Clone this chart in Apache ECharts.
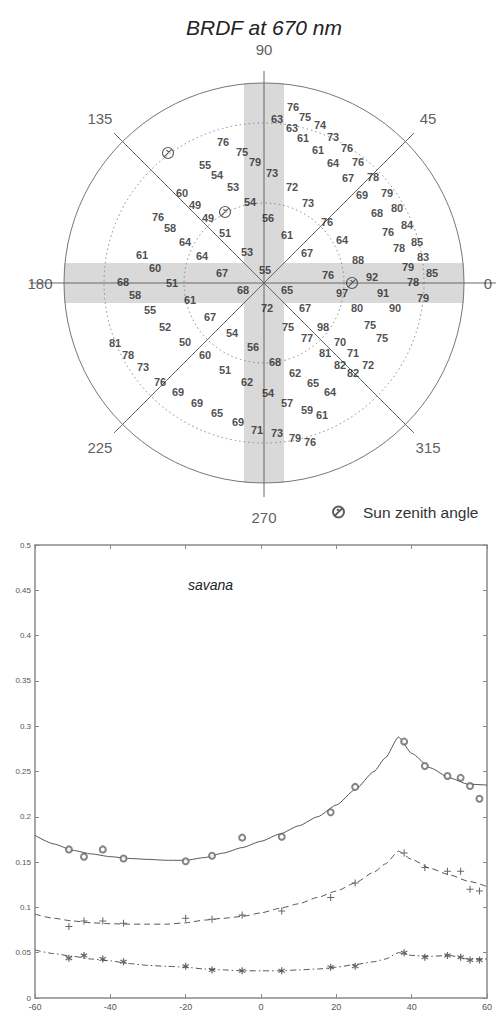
<!DOCTYPE html>
<html><head><meta charset="utf-8">
<script src="https://cdn.jsdelivr.net/npm/echarts/dist/echarts.min.js"></script>
<style>html,body{margin:0;padding:0;background:#fff}#c{width:497px;height:1014px}</style>
</head><body><div id="c"></div>
<script>
// ================= Polar BRDF plot (units: outer ring = 100) =================
const titleText = 'BRDF at 670 nm';
const azimuthLabels = [0, 45, 90, 135, 180, 225, 270, 315];
const ringRadii = [40, 80, 100];
const brdfVal = [76,75,79,55,54,53,54,60,49,49,51,53,76,58,64,61,64,76,75,74,63,63,73,61,61,76,64,76,67,78,69,79,68,80,76,84,78,85,83,73,72,73,56,76,61,64,67,88,60,67,55,68,51,68,58,61,72,55,67,52,54,50,81,56,60,78,73,51,76,62,69,76,92,79,85,78,79,65,97,91,67,80,90,75,98,75,75,77,70,81,71,82,72,82,68,62,65,64,54,69,65,69,71,73,57,59,61,79,76];
const brdfX = [-20.5,-11,-4.5,-29.5,-23.5,-15.5,-7,-41,-34.5,-28,-19.5,-8.5,-53,-47,-39.5,-61,-31,14.5,20.5,28,6.5,14,34.5,19.5,27,41.5,34.5,47,42,54.5,49,61.5,56.5,66.5,62,71.5,67.5,76.5,79.5,4,14,22,2,31.5,11.5,39,21.5,47,-54.5,-21,0.5,-70.5,-46,-10.5,-64.5,-37,1.5,-57,-27,-49.5,-16,-39.5,-74.5,-5.5,-29.5,-68,-60.5,-19.5,-52,-8.5,-43,32,54,72,84,74.5,79.5,11.5,39,59.5,20.5,46.5,65.5,12,29.5,53,59,21.5,38,30.5,44.5,38,52,44.5,5.5,15.5,24.5,33,2,-33.5,-23.5,-13,-3.5,6.5,11.5,21.5,29,15.5,23];
const brdfY = [70.5,65.5,60.5,59,54,48,40.5,45,39,32.5,25,15.5,33,27.5,20.5,14,13.5,88,83,79,82,77.5,73,72.5,66.5,67.5,60,60.5,52.5,53,44,45,35,37.5,25.5,29,17.5,20.5,13,55,48,40,32.5,30.5,24,21.5,15,11.5,7.5,5,6.5,0.5,0,-3.5,-6,-8.5,-12.5,-13.5,-17,-22,-25,-29.5,-30,-32,-36,-36,-42,-43.5,-49.5,-49.5,-54.5,4,3,8,5,0.5,-7.5,-3.5,-5,-5,-12.5,-12.5,-12.5,-22,-22,-21,-27.5,-27.5,-29.5,-35,-35,-41,-41,-45,-39.5,-45,-50,-54.5,-55,-60,-65,-69.5,-73.5,-75,-60,-63.5,-66,-77.5,-79.5];
const sunX = [-48, -19.5, 44];
const sunY = [65, 35.5, 0];

// ================= Savana profile (lower plot) =================
const obsAngle = [-51, -47, -42, -36.5, -20, -13, -5, 5.5, 18.5, 25, 38, 43.5, 49.5, 53, 55.5, 58];
const obsHigh = [0.164, 0.156, 0.164, 0.154, 0.151, 0.157, 0.177, 0.178, 0.205, 0.233, 0.283, 0.256, 0.245, 0.243, 0.234, 0.220];
const obsMid  = [0.079, 0.085, 0.085, 0.0825, 0.088, 0.087, 0.0915, 0.096, 0.111, 0.127, 0.160, 0.144, 0.140, 0.140, 0.120, 0.118];
const obsLow  = [0.044, 0.047, 0.043, 0.040, 0.035, 0.031, 0.030, 0.030, 0.034, 0.035, 0.050, 0.045, 0.047, 0.045, 0.042, 0.042];
const fitAngle = [-60, -55, -50, -45, -40, -35, -30, -25, -20, -15, -10, -5, 0, 5, 10, 15, 20, 25, 30, 33, 36.5, 40, 45, 50, 55, 60];
const fitHigh = [0.1795, 0.170, 0.163, 0.159, 0.156, 0.154, 0.153, 0.152, 0.152, 0.155, 0.160, 0.166, 0.173, 0.181, 0.190, 0.200, 0.213, 0.230, 0.250, 0.265, 0.288, 0.270, 0.254, 0.243, 0.236, 0.235];
const fitMid  = [0.0925, 0.088, 0.085, 0.083, 0.082, 0.0815, 0.0815, 0.0815, 0.083, 0.086, 0.088, 0.090, 0.094, 0.099, 0.104, 0.111, 0.118, 0.127, 0.139, 0.148, 0.162, 0.153, 0.143, 0.136, 0.129, 0.123];
const fitLow  = [0.053, 0.049, 0.046, 0.043, 0.041, 0.038, 0.036, 0.035, 0.034, 0.032, 0.031, 0.030, 0.030, 0.030, 0.031, 0.032, 0.034, 0.037, 0.040, 0.043, 0.050, 0.047, 0.046, 0.047, 0.043, 0.043];
const siteName = 'savana';

// ---------------------------------------------------------------
const FONT = 'Liberation Sans, Arial, sans-serif';
const sunPath = 'path://M0,-5A5,5 0 1,1 0,5A5,5 0 1,1 0,-5ZM-3.5,3.5L3.5,-3.5M-1.5,-2.5L1,-1';
const plusPath = 'path://M-0.6,-4L0.6,-4L0.6,-0.6L4,-0.6L4,0.6L0.6,0.6L0.6,4L-0.6,4L-0.6,0.6L-4,0.6L-4,-0.6L-0.6,-0.6Z';
const starPath = 'path://M-0.7,-4L0.7,-4L0.7,-1.2L3.2,-2.6L3.9,-1.4L1.4,0L3.9,1.4L3.2,2.6L0.7,1.2L0.7,4L-0.7,4L-0.7,1.2L-3.2,2.6L-3.9,1.4L-1.4,0L-3.9,-1.4L-3.2,-2.6L-0.7,-1.2Z';

const zip = (a, b) => a.map((v, i) => [v, b[i]]);

const axisSegs = [[-117, 0, 116, 0], [0, 106, 0, -107]];
[45, 135, 225, 315].forEach(a => {
  const r = 106, t = a * Math.PI / 180;
  axisSegs.push([0, 0, r * Math.cos(t), r * Math.sin(t)]);
});
const azLabelData = azimuthLabels.map(a => {
  const r = (a % 180 === 0) ? 112 : (a === 90 || a === 270 ? 117 : 116);
  const t = a * Math.PI / 180;
  return { value: [r * Math.cos(t), r * Math.sin(t)], name: String(a) };
});

const chart = echarts.init(document.getElementById('c'), null, { renderer: 'svg' });
const gray = '#8a8a8a';
const frameAxis = (extra) => Object.assign({
  type: 'value', gridIndex: 1,
  axisLine: { show: true, onZero: false, lineStyle: { color: gray, width: 1.5 } },
  axisTick: { show: true, inside: true, length: 4, lineStyle: { color: gray } },
  splitLine: { show: false }
}, extra);
const option = {
  animation: false,
  backgroundColor: '#fff',
  textStyle: { fontFamily: FONT },
  graphic: [
    { type: 'text', x: 264, y: 27, style: { text: titleText, fill: '#222', font: 'italic 21px ' + FONT, align: 'center', verticalAlign: 'middle' } },
    { type: 'text', x: 188, y: 585, style: { text: siteName, fill: '#222', font: 'italic 14px ' + FONT, align: 'left', verticalAlign: 'middle' } }
  ],
  legend: {
    data: [{ name: 'Sun zenith angle' }], left: 327, top: 499, itemWidth: 11, itemHeight: 11,
    selectedMode: false, textStyle: { fontSize: 15.5, color: '#333', padding: [0, 0, 0, 14] }
  },
  grid: [
    { left: 64, top: 83, width: 400, height: 400 },
    { left: 35, top: 545, width: 452, height: 453 }
  ],
  xAxis: [
    { gridIndex: 0, type: 'value', min: -100, max: 100, show: false },
    frameAxis({ position: 'bottom', min: -60, max: 60, interval: 20,
      axisLabel: { fontSize: 9, color: '#555', margin: 4 } }),
    frameAxis({ position: 'top', min: -60, max: 60, interval: 20, axisLabel: { show: false } })
  ],
  yAxis: [
    { gridIndex: 0, type: 'value', min: -100, max: 100, show: false },
    frameAxis({ position: 'left', min: 0, max: 0.5, interval: 0.05,
      axisLabel: { fontSize: 8, color: '#555', margin: 4, formatter: v => String(+v.toFixed(2)) } }),
    frameAxis({ position: 'right', min: 0, max: 0.5, interval: 0.05, axisLabel: { show: false } })
  ],
  series: [
    { type: 'line', xAxisIndex: 0, yAxisIndex: 0, data: [[0, 0]], showSymbol: false, symbolSize: 0,
      lineStyle: { width: 0 }, z: 1, silent: true,
      markArea: { silent: true, itemStyle: { color: '#d9d9d9' },
        data: [[{ coord: [-10, -100] }, { coord: [10, 100] }], [{ coord: [-100, -10] }, { coord: [100, 10] }]] } },
    { type: 'custom', xAxisIndex: 0, yAxisIndex: 0, z: 3, silent: true,
      data: ringRadii.map(r => [r, 0]),
      renderItem: (params, api) => {
        const c = api.coord([0, 0]);
        const r = api.size([api.value(0), 0])[0];
        const outer = api.value(0) >= 100;
        return { type: 'circle', shape: { cx: c[0], cy: c[1], r: r },
          style: { fill: 'none', stroke: outer ? '#777' : '#888', lineWidth: 1, lineDash: outer ? null : [1.5, 3] } };
      } },
    { type: 'custom', xAxisIndex: 0, yAxisIndex: 0, z: 3, silent: true,
      data: axisSegs,
      renderItem: (params, api) => {
        const p1 = api.coord([api.value(0), api.value(1)]);
        const p2 = api.coord([api.value(2), api.value(3)]);
        return { type: 'line', shape: { x1: p1[0], y1: p1[1], x2: p2[0], y2: p2[1] },
          style: { stroke: '#666', lineWidth: 1 } };
      } },
    { type: 'scatter', xAxisIndex: 0, yAxisIndex: 0, clip: false, z: 4, silent: true,
      data: azLabelData, symbolSize: 1, itemStyle: { color: 'transparent' },
      label: { show: true, position: 'inside', formatter: p => p.name, fontSize: 15, color: '#333', fontFamily: FONT } },
    { type: 'scatter', xAxisIndex: 0, yAxisIndex: 0, clip: false, z: 5, silent: true,
      data: brdfX.map((x, i) => [x, brdfY[i], brdfVal[i]]), symbolSize: 1, itemStyle: { color: 'transparent' },
      label: { show: true, position: 'inside', formatter: p => p.value[2], fontSize: 11, fontWeight: 'bold', color: '#222', fontFamily: FONT } },
    { name: 'Sun zenith angle', type: 'scatter', xAxisIndex: 0, yAxisIndex: 0, z: 6,
      data: zip(sunX, sunY), symbol: sunPath, symbolSize: 11,
      itemStyle: { color: 'rgba(255,255,255,0)', borderColor: '#333', borderWidth: 1.2 } },

    { type: 'line', xAxisIndex: 1, yAxisIndex: 1, data: zip(fitAngle, fitHigh), showSymbol: false,
      smooth: 0.2, smoothMonotone: 'x', lineStyle: { color: '#555', width: 1 }, silent: true },
    { type: 'line', xAxisIndex: 1, yAxisIndex: 1, data: zip(fitAngle, fitMid), showSymbol: false,
      smooth: 0.2, smoothMonotone: 'x', lineStyle: { color: '#555', width: 1, type: [6, 4] }, silent: true },
    { type: 'line', xAxisIndex: 1, yAxisIndex: 1, data: zip(fitAngle, fitLow), showSymbol: false,
      smooth: 0.2, smoothMonotone: 'x', lineStyle: { color: '#555', width: 1, type: [6, 3, 1.5, 3] }, silent: true },
    { type: 'scatter', xAxisIndex: 1, yAxisIndex: 1, data: zip(obsAngle, obsHigh), symbol: 'emptyCircle', symbolSize: 6,
      itemStyle: { color: '#666', borderWidth: 0.8 }, silent: true, z: 5 },
    { type: 'scatter', xAxisIndex: 1, yAxisIndex: 1, data: zip(obsAngle, obsMid), symbol: plusPath, symbolSize: 7,
      itemStyle: { color: '#444' }, silent: true, z: 5 },
    { type: 'scatter', xAxisIndex: 1, yAxisIndex: 1, data: zip(obsAngle, obsLow), symbol: starPath, symbolSize: 7,
      itemStyle: { color: '#444' }, silent: true, z: 5 }
  ]
};
chart.setOption(option);
</script>
</body></html>
